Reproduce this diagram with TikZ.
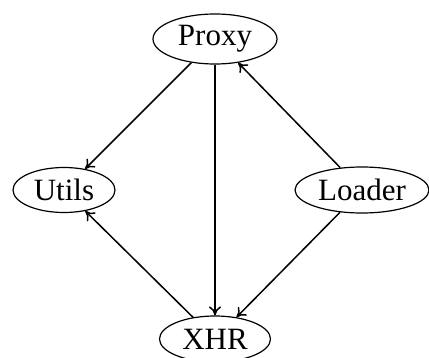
\documentclass[tikz,border=0pt]{standalone}
\usepackage{fontspec}
\setmainfont{Liberation Serif}
\usetikzlibrary{shapes.geometric,arrows.meta}
\begin{document}
\begin{tikzpicture}[x=1pt,y=-1pt,
  nd/.style={ellipse,draw,line width=1.2pt,inner sep=0pt,font=\fontsize{31}{36}\selectfont},
  edge/.style={-{To[length=9pt,width=12pt]},line width=1.5pt}]
\useasboundingbox (0,0) rectangle (429,358);
\node[nd,minimum width=124pt,minimum height=50pt] (proxy) at (215,39) {Proxy};
\node[nd,minimum width=102pt,minimum height=45pt] (utils) at (64,190) {Utils};
\node[nd,minimum width=134pt,minimum height=46pt] (loader) at (362,190) {Loader};
\node[nd,minimum width=111pt,minimum height=46pt] (xhr) at (215,339) {XHR};
\draw[edge] (proxy) -- (utils);
\draw[edge] (proxy) -- (xhr);
\draw[edge] (loader) -- (proxy);
\draw[edge] (loader) -- (xhr);
\draw[edge] (xhr) -- (utils);
\end{tikzpicture}
\end{document}
